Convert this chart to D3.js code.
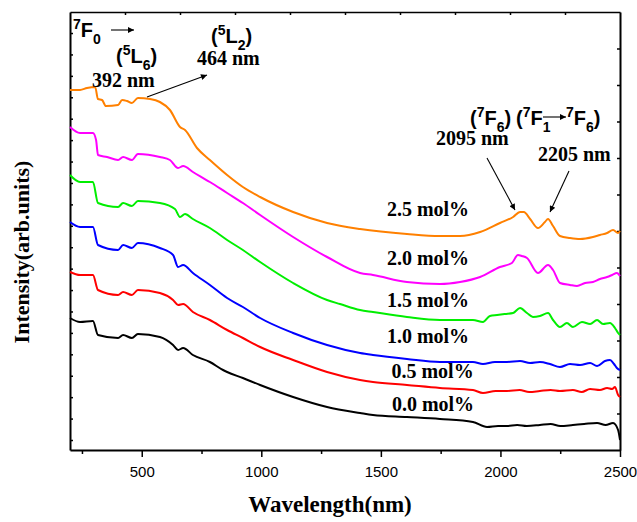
<!DOCTYPE html>
<html>
<head>
<meta charset="utf-8">
<script src="https://cdn.jsdelivr.net/npm/d3@7"></script>
<style>
  body { margin: 0; background: #fff; }
  svg { display: block; }
</style>
</head>
<body>
<svg id="chart" width="637" height="522"></svg>
<script>
const margin = {top: 12, right: 17, bottom: 72, left: 70};
const width = 637 - margin.left - margin.right;
const height = 522 - margin.top - margin.bottom;

// [wavelength nm, intensity arb. units]
const s00 = [[200,132],[242,128],[296,129],[317,115],[401,112],[422,115],[459,112],[484,116],[576,113],[631,105],[652,100],[673,102],[714,95],[785,88],[840,80],[857,78],[923,72],[995,65],[1133,53],[1275,43],[1413,37],[1467,35],[1609,33],[1747,31],[1885,28],[1944,23],[1990,24],[2027,24],[2070,25],[2110,24],[2165,25],[2210,26],[2250,24],[2303,25],[2350,26],[2404,27],[2440,25],[2471,27],[2492,20],[2500,10]];
const s05 = [[200,178],[242,175],[296,175],[317,160],[401,155],[422,158],[459,155],[484,160],[576,157],[631,150],[652,145],[673,146],[714,138],[785,130],[857,120],[923,112],[995,103],[1133,90],[1275,78],[1413,70],[1467,68],[1609,65],[1747,62],[1885,60],[1927,57],[1980,59],[2027,59],[2080,60],[2120,58],[2165,59],[2210,60],[2249,59],[2303,60],[2340,58],[2375,61],[2416,60],[2446,62],[2467,61],[2479,63],[2492,55],[2500,53]];
const s10 = [[200,228],[242,223],[296,223],[317,205],[401,200],[422,205],[459,202],[484,207],[576,202],[631,195],[652,183],[673,185],[714,177],[785,165],[857,152],[923,143],[995,132],[1133,117],[1275,105],[1413,97],[1467,95],[1609,91],[1747,88],[1885,88],[1927,86],[1977,88],[2027,88],[2082,89],[2124,87],[2165,88],[2207,86],[2249,83],[2291,86],[2333,85],[2375,87],[2404,84],[2437,89],[2458,90],[2475,86],[2487,82],[2500,80]];
const s15 = [[200,275],[242,268],[296,268],[317,247],[401,243],[422,247],[459,244],[484,249],[576,247],[639,241],[660,233],[681,236],[714,231],[785,222],[857,210],[923,200],[995,188],[1133,167],[1275,150],[1329,146],[1413,140],[1467,138],[1609,133],[1747,130],[1885,130],[1927,128],[1956,134],[1986,135],[2019,136],[2053,137],[2082,142],[2111,137],[2136,133],[2165,134],[2199,137],[2220,130],[2249,123],[2278,127],[2303,123],[2341,128],[2375,126],[2404,130],[2429,126],[2458,127],[2479,122],[2492,117],[2500,115]];
const s20 = [[200,323],[242,317],[296,317],[309,310],[317,295],[355,293],[401,290],[422,293],[459,290],[484,296],[576,293],[618,290],[652,282],[673,284],[714,278],[785,268],[857,257],[923,247],[995,235],[1133,213],[1275,193],[1413,177],[1467,175],[1609,168],[1747,166],[1831,168],[1915,173],[1998,183],[2048,187],[2073,195],[2090,194],[2111,192],[2157,177],[2199,185],[2220,180],[2249,167],[2291,165],[2320,164],[2354,167],[2387,168],[2416,171],[2446,173],[2467,175],[2487,177],[2500,174]];
const s25 = [[200,360],[242,360],[271,362],[305,363],[317,351],[334,350],[350,344],[401,345],[418,350],[438,349],[459,347],[484,352],[535,351],[576,348],[618,340],[660,323],[681,320],[731,302],[785,290],[857,275],[923,263],[995,253],[1133,238],[1275,227],[1413,221],[1609,216],[1747,214],[1831,214],[1915,218],[1998,227],[2053,233],[2082,238],[2098,238],[2124,231],[2157,222],[2186,228],[2199,231],[2220,224],[2249,214],[2291,212],[2333,211],[2387,213],[2416,215],[2446,217],[2471,220],[2492,217],[2500,219]];

const series = [
  {label: '0.0 mol%', color: '#000000', data: s00},
  {label: '0.5 mol%', color: '#ff0000', data: s05},
  {label: '1.0 mol%', color: '#0000ff', data: s10},
  {label: '1.5 mol%', color: '#00ee00', data: s15},
  {label: '2.0 mol%', color: '#ff00ff', data: s20},
  {label: '2.5 mol%', color: '#ff8000', data: s25}
];
// where each concentration label ends: [wavelength, intensity at baseline]
const seriesLabelPos = [[1890,39],[1888,72],[1869,107],[1869,143],[1869,185],[1869,234]];

const xTicks = [500, 1000, 1500, 2000, 2500];
const xMinorTicks = [250, 750, 1250, 1750, 2250];

const svg = d3.select('#chart');
const g = svg.append('g').attr('transform', `translate(${margin.left},${margin.top})`);

const x = d3.scaleLinear().domain([200, 2500]).range([0, width]);
const y = d3.scaleLinear().domain([0, 438]).range([height, 0]);
const yRight = d3.scaleLinear().domain([0, 12]).range([height, 0]);
const xTop = d3.scaleLinear().domain([0, 10]).range([0, width]);

// bottom axis: major + minor, outward
g.append('g')
    .attr('transform', `translate(0,${height})`)
    .call(d3.axisBottom(x).tickValues(xMinorTicks).tickSize(4).tickFormat(''))
    .call(a => a.select('.domain').remove())
    .selectAll('line').attr('stroke-width', 1.5);
const xAxis = g.append('g')
    .attr('transform', `translate(0,${height})`)
    .call(d3.axisBottom(x).tickValues(xTicks).tickSize(7).tickPadding(9).tickSizeOuter(0).tickFormat(d3.format('d')));
xAxis.selectAll('line').attr('stroke-width', 1.5);
xAxis.select('.domain').attr('stroke-width', 2);
xAxis.selectAll('text')
    .style('font-family', 'Liberation Sans, Arial, sans-serif')
    .style('font-size', '15px');

// left axis: inward ticks, no labels
const leftTicks = d3.range(20).map(k => 10 + k * 21.42);
g.append('g')
    .call(d3.axisLeft(y).tickValues(leftTicks).tickSize(-3).tickSizeOuter(0).tickFormat(''))
    .call(a => a.select('.domain').attr('stroke-width', 2))
    .selectAll('line').attr('stroke-width', 1.5);

// right axis
g.append('g')
    .attr('transform', `translate(${width},0)`)
    .call(d3.axisRight(yRight).tickValues(d3.range(1, 12)).tickSize(-3).tickSizeOuter(0).tickFormat(''))
    .call(a => a.select('.domain').attr('stroke-width', 2))
    .selectAll('line').attr('stroke-width', 1.5);

// top axis
g.append('g')
    .call(d3.axisTop(xTop).tickValues(d3.range(1, 10)).tickSize(-3).tickSizeOuter(0).tickFormat(''))
    .call(a => a.select('.domain').attr('stroke-width', 1.5))
    .selectAll('line').attr('stroke-width', 1.5);

// curves
const line = d3.line()
    .x(d => x(d[0]))
    .y(d => y(d[1]))
    .curve(d3.curveMonotoneX);

g.selectAll('.curve')
  .data(series)
  .join('path')
    .attr('class', 'curve')
    .attr('fill', 'none')
    .attr('stroke', d => d.color)
    .attr('stroke-width', 2)
    .attr('stroke-linejoin', 'round')
    .attr('d', d => line(d.data));

const serif = 'Liberation Serif, Times New Roman, serif';
const sans = 'Liberation Sans, Arial, sans-serif';

g.selectAll('.slabel')
  .data(series)
  .join('text')
    .attr('class', 'slabel')
    .attr('x', (d, i) => x(seriesLabelPos[i][0]))
    .attr('y', (d, i) => y(seriesLabelPos[i][1]))
    .attr('text-anchor', 'end')
    .style('font-family', serif)
    .style('font-weight', 'bold')
    .style('font-size', '20px')
    .text(d => d.label);

// axis titles
svg.append('text')
    .attr('x', 330)
    .attr('y', 512)
    .attr('text-anchor', 'middle')
    .style('font-family', serif)
    .style('font-weight', 'bold')
    .style('font-size', '23px')
    .text('Wavelength(nm)');

svg.append('text')
    .attr('transform', 'translate(29,252) rotate(-90)')
    .attr('text-anchor', 'middle')
    .style('font-family', serif)
    .style('font-weight', 'bold')
    .style('font-size', '22px')
    .text('Intensity(arb.units)');

// annotations (absolute svg coords)
svg.append('defs').append('marker')
    .attr('id', 'head')
    .attr('viewBox', '0 0 10 10')
    .attr('refX', 10).attr('refY', 5)
    .attr('markerWidth', 9).attr('markerHeight', 6)
    .attr('markerUnits', 'userSpaceOnUse')
    .attr('orient', 'auto')
  .append('path')
    .attr('d', 'M0,0 L10,5 L0,10 z')
    .attr('fill', '#000');

function term(x0, y0, parts, size) {
  const t = svg.append('text')
      .attr('x', x0).attr('y', y0)
      .style('font-family', sans)
      .style('font-weight', 'bold')
      .style('font-size', size + 'px');
  let shift = 0;
  parts.forEach(p => {
    const target = p.s === 'sup' ? -8 : p.s === 'sub' ? 7 : 0;
    t.append('tspan')
        .attr('dy', target - shift)
        .style('font-size', p.s ? Math.round(size * 0.68) + 'px' : null)
        .text(p.t);
    shift = target;
  });
  return t;
}

function note(x0, y0, txt) {
  svg.append('text')
      .attr('x', x0).attr('y', y0)
      .style('font-family', serif)
      .style('font-weight', 'bold')
      .style('font-size', '20px')
      .text(txt);
}

function arrow(x1, y1, x2, y2) {
  svg.append('line')
      .attr('x1', x1).attr('y1', y1)
      .attr('x2', x2).attr('y2', y2)
      .attr('stroke', '#000')
      .attr('stroke-width', 1.1)
      .attr('marker-end', 'url(#head)');
}

term(73, 37, [{t: '7', s: 'sup'}, {t: 'F'}, {t: '0', s: 'sub'}], 20);
arrow(111, 30, 134, 30);
term(116, 63, [{t: '('}, {t: '5', s: 'sup'}, {t: 'L'}, {t: '6', s: 'sub'}, {t: ')'}], 20);
note(92, 87, '392 nm');
arrow(147, 97, 207, 75);
term(211, 43, [{t: '('}, {t: '5', s: 'sup'}, {t: 'L'}, {t: '2', s: 'sub'}, {t: ')'}], 20);
note(197, 65, '464 nm');

term(470, 125, [{t: '('}, {t: '7', s: 'sup'}, {t: 'F'}, {t: '6', s: 'sub'}, {t: ')'}], 20);
term(516, 125, [{t: '('}, {t: '7', s: 'sup'}, {t: 'F'}, {t: '1', s: 'sub'}], 20);
arrow(543, 117, 566, 117);
term(566, 125, [{t: '7', s: 'sup'}, {t: 'F'}, {t: '6', s: 'sub'}, {t: ')'}], 20);
note(436, 145, '2095 nm');
note(538, 161, '2205 nm');
arrow(487, 158, 515, 210);
arrow(569, 171, 550, 212);
</script>
</body>
</html>
